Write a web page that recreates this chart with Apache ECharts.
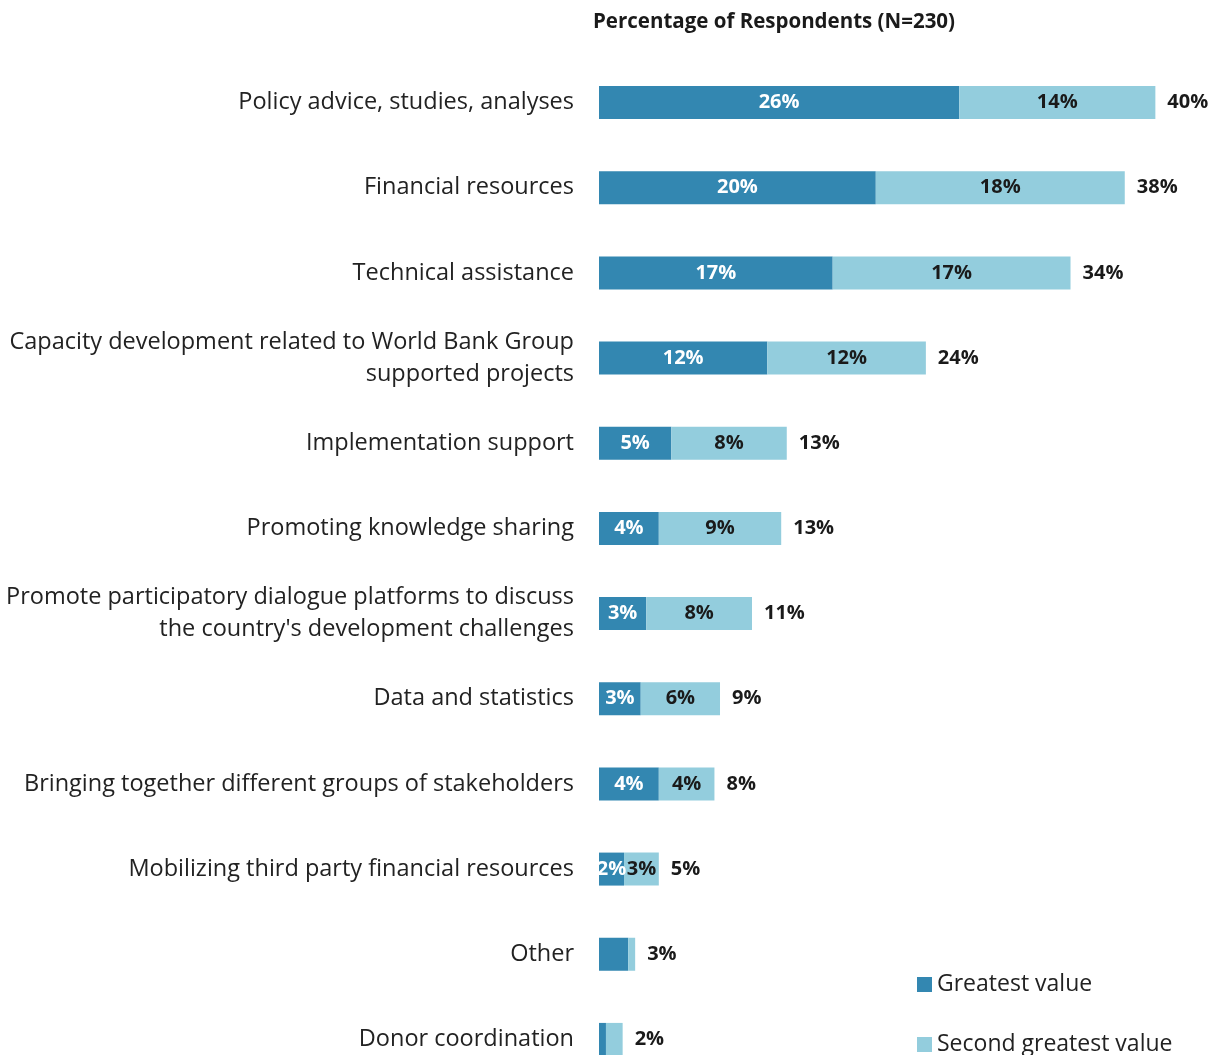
<!DOCTYPE html>
<html><head><meta charset="utf-8">
<script src="https://cdn.jsdelivr.net/npm/echarts@6/dist/echarts.min.js"></script>
<style>html,body{margin:0;padding:0;background:#fff}#c{width:1220px;height:1055px}</style>
</head><body><div id="c"></div>
<script>
const categories = [
  "Policy advice, studies, analyses",
  "Financial resources",
  "Technical assistance",
  "Capacity development related to World Bank Group\nsupported projects",
  "Implementation support",
  "Promoting knowledge sharing",
  "Promote participatory dialogue platforms to discuss\nthe country's development challenges",
  "Data and statistics",
  "Bringing together different groups of stakeholders",
  "Mobilizing third party financial resources",
  "Other",
  "Donor coordination"
];
const greatestValues = [25.9, 19.9, 16.8, 12.1, 5.2, 4.3, 3.4, 3.0, 4.3, 1.8, 2.1, 0.5];
const secondValues   = [14.1, 17.9, 17.1, 11.4, 8.3, 8.8, 7.6, 5.7, 4.0, 2.5, 0.5, 1.2];
const greatestLabels = ["26%","20%","17%","12%","5%","4%","3%","3%","4%","2%","",""];
const secondLabels   = ["14%","18%","17%","12%","8%","9%","8%","6%","4%","3%","",""];
const totalLabels    = ["40%","38%","34%","24%","13%","13%","11%","9%","8%","5%","3%","2%"];
const seriesNames = ["Greatest value", "Second greatest value"];

const FONT = "Open Sans";
const legendText = {fontFamily: FONT, fontSize: 23, color: '#222'};
const chart = echarts.init(document.getElementById('c'), null, {renderer:'canvas'});
chart.setOption({
  animation: false,
  backgroundColor: '#fff',
  title: {
    text: 'Percentage of Respondents (N=230)',
    left: 769, top: 7, textAlign: 'center',
    textStyle: {fontFamily: FONT, fontSize: 20.5, fontWeight: 'bold', color: '#1a1a1a'}
  },
  legend: [
    {left: 912, top: 968, itemWidth: 15, itemHeight: 15, icon: 'rect', textStyle: legendText, data: [seriesNames[0]]},
    {left: 912, top: 1028, itemWidth: 15, itemHeight: 15, icon: 'rect', textStyle: legendText, data: [seriesNames[1]]}
  ],
  grid: {left: 599, top: 60, width: 612, height: 1022, outerBoundsMode: 'none', containLabel: false},
  xAxis: {type: 'value', min: 0, max: 44, show: false},
  yAxis: {
    type: 'category', inverse: true, data: categories,
    axisLine: {show: false}, axisTick: {show: false},
    axisLabel: {fontFamily: FONT, fontSize: 23.5, color: '#222', margin: 25, lineHeight: 32, align: 'right'}
  },
  series: [
    {
      name: seriesNames[0], type: 'bar', stack: 'a', barWidth: 33,
      itemStyle: {color: '#3387b1'},
      data: greatestValues,
      label: {show: true, position: 'inside', color: '#fff', fontFamily: FONT, fontWeight: 'bold', fontSize: 20,
        formatter: p => greatestLabels[p.dataIndex]}
    },
    {
      name: seriesNames[1], type: 'bar', stack: 'a', barWidth: 33,
      itemStyle: {color: '#93cddd'},
      data: secondValues,
      label: {show: true, position: 'inside', color: '#1a1a1a', fontFamily: FONT, fontWeight: 'bold', fontSize: 20,
        formatter: p => secondLabels[p.dataIndex]}
    },
    {
      name: 'total', type: 'bar', stack: 'a', barWidth: 33,
      itemStyle: {color: 'rgba(0,0,0,0)'},
      data: totalLabels.map(() => 0),
      label: {show: true, position: 'right', distance: 12, color: '#1a1a1a', fontFamily: FONT, fontWeight: 'bold', fontSize: 20,
        formatter: p => totalLabels[p.dataIndex]}
    }
  ]
});
</script></body></html>
